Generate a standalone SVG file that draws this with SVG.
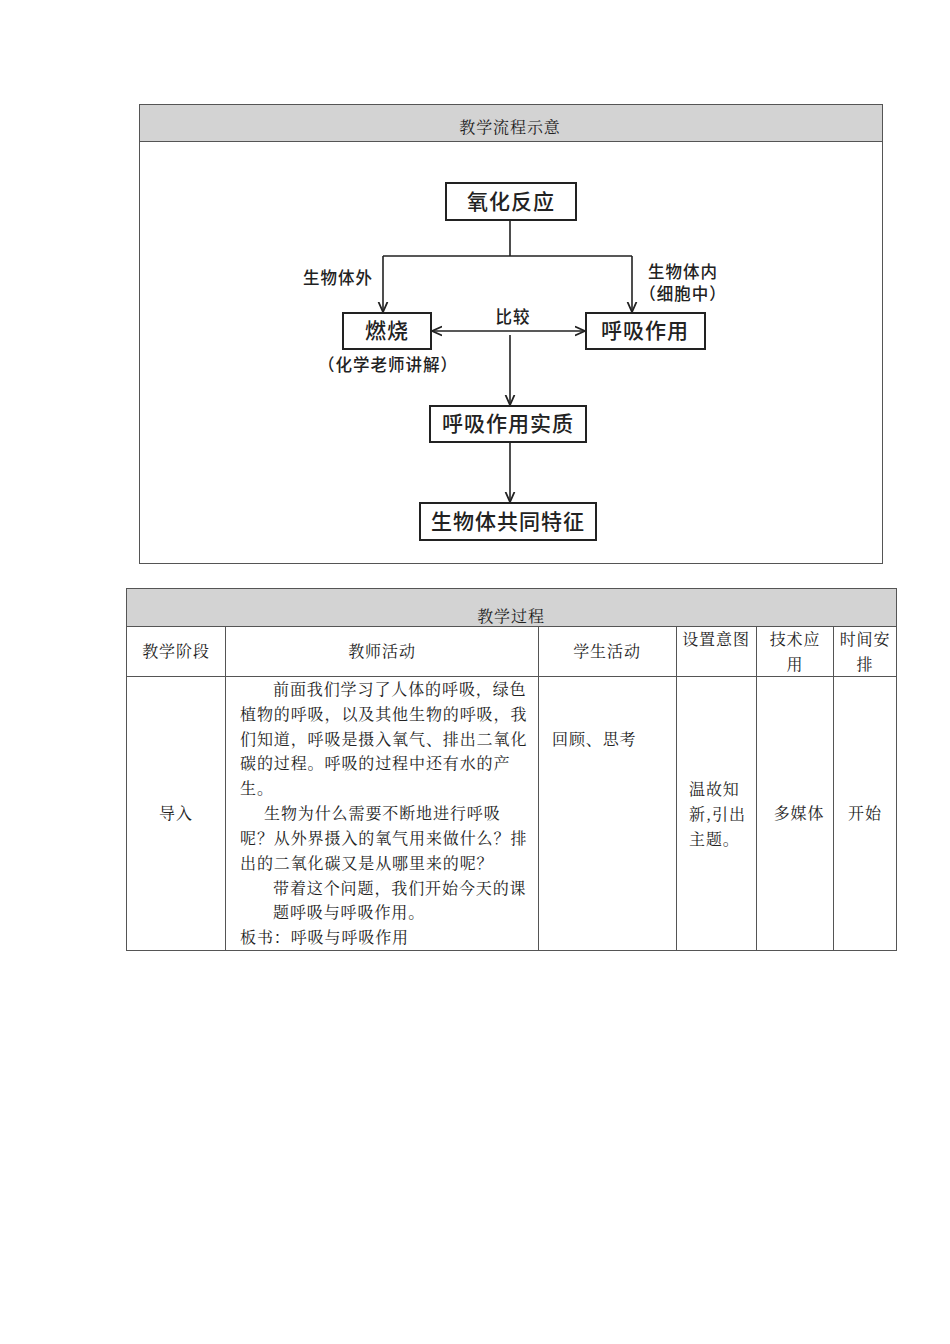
<svg xmlns="http://www.w3.org/2000/svg" width="950" height="1344" viewBox="0 0 950 1344">
<style>
.b{fill:#fff;stroke:#222;stroke-width:2}
.n{font-family:"Noto Sans CJK SC",sans-serif;font-size:21px;fill:#222;text-anchor:middle;font-weight:500;letter-spacing:1px}
.l{font-family:"Noto Sans CJK SC",sans-serif;font-size:16.5px;fill:#222;font-weight:500;letter-spacing:1px}
.t{font-family:"Noto Serif CJK SC","Noto Sans CJK SC",serif;font-size:16px;fill:#222;letter-spacing:0.9px}
.c{text-anchor:middle}
.g{fill:#d3d3d3;stroke:#555;stroke-width:1}
.f{fill:none;stroke:#555;stroke-width:1}
.e{stroke:#222;stroke-width:1.6;fill:none}
</style>
<defs><marker id="a" viewBox="0 0 10 10" refX="9" refY="5" markerWidth="7" markerHeight="7" orient="auto-start-reverse"><path d="M0,1 L9,5 L0,9" fill="none" stroke="#222" stroke-width="1.6"/></marker></defs>
<rect x="0" y="0" width="950" height="1344" fill="#fff"/>
<rect class="f" x="139.5" y="104.5" width="743" height="459"/>
<rect class="g" x="139.5" y="104.5" width="743" height="37"/>
<text class="t c" x="510" y="133">教学流程示意</text>
<g id="connectors">
<path class="e" d="M510,220 V256 M383,256 H632"/>
<path class="e" d="M383,256 V312" marker-end="url(#a)"/>
<path class="e" d="M632,256 V312" marker-end="url(#a)"/>
<path class="e" d="M432,331 H585" marker-start="url(#a)" marker-end="url(#a)"/>
<path class="e" d="M510,335 V405" marker-end="url(#a)"/>
<path class="e" d="M510,442 V502" marker-end="url(#a)"/>
</g>
<g id="n1"><rect class="b" x="446" y="183" width="130" height="37"/><text class="n" x="511" y="209">氧化反应</text></g>
<g id="n2"><rect class="b" x="343" y="313" width="88" height="36"/><text class="n" x="387" y="338">燃烧</text></g>
<g id="n3"><rect class="b" x="586" y="313" width="119" height="36"/><text class="n" x="645" y="338">呼吸作用</text></g>
<g id="n4"><rect class="b" x="430" y="406" width="156" height="36"/><text class="n" x="508" y="431">呼吸作用实质</text></g>
<g id="n5"><rect class="b" x="420" y="503" width="176" height="37"/><text class="n" x="508" y="529">生物体共同特征</text></g>
<g id="labels">
<text class="l c" x="338" y="284">生物体外</text>
<text class="l c" x="683" y="278">生物体内</text>
<text class="l c" x="683" y="300">（细胞中）</text>
<text class="l c" x="513" y="323">比较</text>
<text class="l c" x="388" y="371">（化学老师讲解）</text>
</g>
<g id="table">
<rect class="g" x="126.5" y="588.5" width="770" height="38"/>
<rect class="f" x="126.5" y="588.5" width="770" height="362"/>
<path class="f" d="M126,626.5 H896 M126,676.5 H896 M225.5,626 V950 M538.5,626 V950 M676.5,626 V950 M756.5,626 V950 M833.5,626 V950"/>
<text class="t c" x="511" y="622">教学过程</text>
<text class="t c" x="176" y="657">教学阶段</text>
<text class="t c" x="382" y="657">教师活动</text>
<text class="t c" x="607" y="657">学生活动</text>
<text class="t c" x="716" y="645">设置意图</text>
<text class="t c" x="795" y="645">技术应</text>
<text class="t c" x="795" y="670">用</text>
<text class="t c" x="865" y="645">时间安</text>
<text class="t c" x="865" y="670">排</text>
<text class="t c" x="176" y="819">导入</text>
<text class="t" x="273" y="695">前面我们学习了人体的呼吸，绿色</text>
<text class="t" x="240" y="720">植物的呼吸，以及其他生物的呼吸，我</text>
<text class="t" x="240" y="745">们知道，呼吸是摄入氧气、排出二氧化</text>
<text class="t" x="240" y="769">碳的过程。呼吸的过程中还有水的产</text>
<text class="t" x="240" y="794">生。</text>
<text class="t" x="264" y="819">生物为什么需要不断地进行呼吸</text>
<text class="t" x="240" y="844">呢？从外界摄入的氧气用来做什么？排</text>
<text class="t" x="240" y="869">出的二氧化碳又是从哪里来的呢？</text>
<text class="t" x="273" y="894">带着这个问题，我们开始今天的课</text>
<text class="t" x="273" y="918">题呼吸与呼吸作用。</text>
<text class="t" x="240" y="943">板书：呼吸与呼吸作用</text>
<text class="t" x="552" y="745">回顾、思考</text>
<text class="t" x="689" y="795">温故知</text>
<text class="t" x="689" y="820">新,引出</text>
<text class="t" x="689" y="845">主题。</text>
<text class="t c" x="799" y="819">多媒体</text>
<text class="t c" x="865" y="819">开始</text>
</g>
</svg>
